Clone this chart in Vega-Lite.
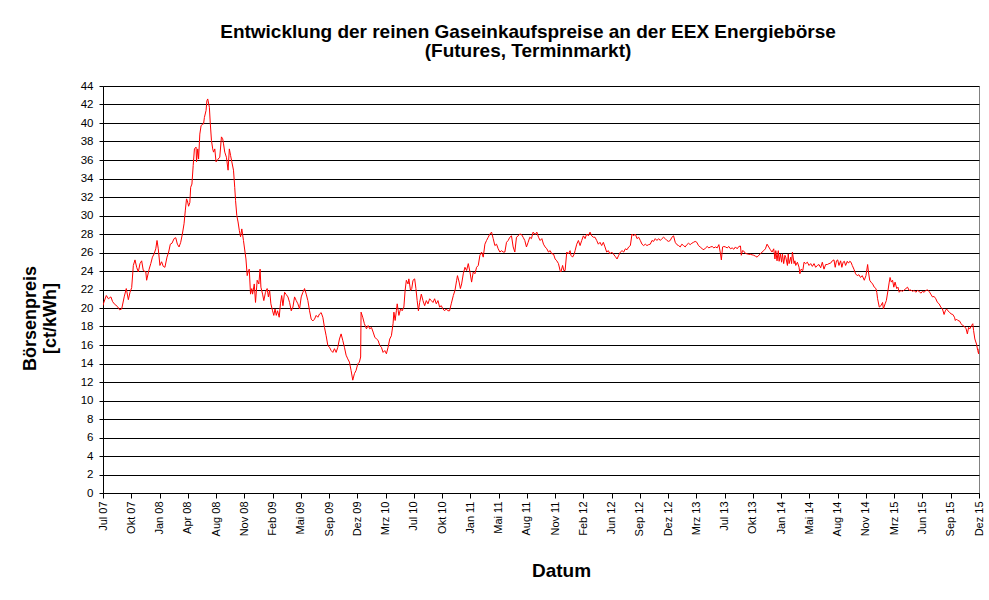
{
  "$schema": "https://vega.github.io/schema/vega-lite/v6.json",
  "width": 876,
  "height": 407,
  "autosize": {"type": "none"},
  "padding": {"left": 103, "top": 86, "right": 10, "bottom": 107},
  "background": "white",
  "title": {
    "text": ["Entwicklung der reinen Gaseinkaufspreise an der EEX Energiebörse", "(Futures, Terminmarkt)"],
    "font": "Liberation Sans",
    "fontSize": 19,
    "fontWeight": "bold",
    "color": "black",
    "anchor": "middle",
    "frame": "group",
    "dx": -13,
    "offset": 19,
    "lineHeight": 19
  },
  "config": {
    "view": {"stroke": "#808080", "strokeWidth": 1},
    "font": "Liberation Sans"
  },
  "data": {
    "values": [
      {"handelstag": 0, "preis": 20.27}, {"handelstag": 2, "preis": 20.6}, {"handelstag": 8, "preis": 21.35}, {"handelstag": 13, "preis": 21.0}, {"handelstag": 19, "preis": 21.2}, {"handelstag": 23, "preis": 20.7}, {"handelstag": 27, "preis": 20.45}, {"handelstag": 35, "preis": 20.15}, {"handelstag": 40, "preis": 19.8}, {"handelstag": 45, "preis": 19.9}, {"handelstag": 51, "preis": 21.2}, {"handelstag": 56, "preis": 22.1}, {"handelstag": 61, "preis": 20.9}, {"handelstag": 65, "preis": 21.7}, {"handelstag": 69, "preis": 22.2}, {"handelstag": 73, "preis": 24.6}, {"handelstag": 77, "preis": 25.2}, {"handelstag": 81, "preis": 24.4}, {"handelstag": 85, "preis": 23.9}, {"handelstag": 89, "preis": 24.8}, {"handelstag": 93, "preis": 25.1}, {"handelstag": 97, "preis": 24.05}, {"handelstag": 103, "preis": 23.9}, {"handelstag": 105, "preis": 23.0}, {"handelstag": 111, "preis": 24.2}, {"handelstag": 115, "preis": 24.8}, {"handelstag": 119, "preis": 25.5}, {"handelstag": 123, "preis": 25.85}, {"handelstag": 127, "preis": 26.4}, {"handelstag": 130, "preis": 27.3}, {"handelstag": 133, "preis": 26.4}, {"handelstag": 137, "preis": 24.6}, {"handelstag": 141, "preis": 25.0}, {"handelstag": 145, "preis": 24.5}, {"handelstag": 149, "preis": 24.4}, {"handelstag": 154, "preis": 25.5}, {"handelstag": 158, "preis": 26.05}, {"handelstag": 162, "preis": 26.9}, {"handelstag": 166, "preis": 27.0}, {"handelstag": 171, "preis": 27.5}, {"handelstag": 175, "preis": 27.6}, {"handelstag": 179, "preis": 26.9}, {"handelstag": 183, "preis": 26.6}, {"handelstag": 187, "preis": 27.1}, {"handelstag": 191, "preis": 28.0}, {"handelstag": 195, "preis": 29.1}, {"handelstag": 198, "preis": 30.5}, {"handelstag": 201, "preis": 31.8}, {"handelstag": 203, "preis": 31.6}, {"handelstag": 206, "preis": 31.0}, {"handelstag": 209, "preis": 31.4}, {"handelstag": 211, "preis": 33.05}, {"handelstag": 214, "preis": 33.4}, {"handelstag": 217, "preis": 35.4}, {"handelstag": 220, "preis": 37.2}, {"handelstag": 224, "preis": 37.4}, {"handelstag": 225, "preis": 35.8}, {"handelstag": 228, "preis": 37.2}, {"handelstag": 230, "preis": 36.1}, {"handelstag": 233, "preis": 38.8}, {"handelstag": 236, "preis": 39.7}, {"handelstag": 240, "preis": 39.9}, {"handelstag": 242, "preis": 39.9}, {"handelstag": 244, "preis": 40.6}, {"handelstag": 248, "preis": 41.35}, {"handelstag": 250, "preis": 42.4}, {"handelstag": 252, "preis": 42.6}, {"handelstag": 256, "preis": 41.7}, {"handelstag": 258, "preis": 40.1}, {"handelstag": 261, "preis": 38.1}, {"handelstag": 264, "preis": 37.2}, {"handelstag": 266, "preis": 36.85}, {"handelstag": 269, "preis": 37.2}, {"handelstag": 272, "preis": 35.8}, {"handelstag": 275, "preis": 35.95}, {"handelstag": 277, "preis": 36.1}, {"handelstag": 281, "preis": 36.3}, {"handelstag": 285, "preis": 38.5}, {"handelstag": 288, "preis": 38.3}, {"handelstag": 290, "preis": 37.75}, {"handelstag": 293, "preis": 36.85}, {"handelstag": 297, "preis": 36.3}, {"handelstag": 301, "preis": 34.9}, {"handelstag": 304, "preis": 37.2}, {"handelstag": 307, "preis": 36.5}, {"handelstag": 310, "preis": 35.8}, {"handelstag": 314, "preis": 34.9}, {"handelstag": 317, "preis": 33.05}, {"handelstag": 319, "preis": 31.6}, {"handelstag": 322, "preis": 30.0}, {"handelstag": 325, "preis": 29.3}, {"handelstag": 328, "preis": 28.4}, {"handelstag": 331, "preis": 27.7}, {"handelstag": 334, "preis": 28.55}, {"handelstag": 338, "preis": 27.3},
      {"handelstag": 344, "preis": 25.3}, {"handelstag": 347, "preis": 23.5}, {"handelstag": 350, "preis": 24.05}, {"handelstag": 352, "preis": 24.2}, {"handelstag": 355, "preis": 21.5}, {"handelstag": 358, "preis": 22.1}, {"handelstag": 360, "preis": 21.5}, {"handelstag": 364, "preis": 22.6}, {"handelstag": 367, "preis": 20.6}, {"handelstag": 371, "preis": 23.0}, {"handelstag": 375, "preis": 22.6}, {"handelstag": 378, "preis": 24.2}, {"handelstag": 380, "preis": 22.25}, {"handelstag": 384, "preis": 21.5}, {"handelstag": 387, "preis": 20.8}, {"handelstag": 391, "preis": 21.7}, {"handelstag": 395, "preis": 22.1}, {"handelstag": 398, "preis": 21.2}, {"handelstag": 401, "preis": 21.9}, {"handelstag": 404, "preis": 20.45}, {"handelstag": 408, "preis": 19.7}, {"handelstag": 411, "preis": 19.2}, {"handelstag": 414, "preis": 19.9}, {"handelstag": 417, "preis": 19.2}, {"handelstag": 420, "preis": 19.7}, {"handelstag": 424, "preis": 19.0}, {"handelstag": 427, "preis": 20.45}, {"handelstag": 430, "preis": 21.35}, {"handelstag": 433, "preis": 20.25}, {"handelstag": 437, "preis": 21.7}, {"handelstag": 441, "preis": 21.45}, {"handelstag": 445, "preis": 21.2}, {"handelstag": 449, "preis": 20.6}, {"handelstag": 453, "preis": 19.7}, {"handelstag": 457, "preis": 20.1}, {"handelstag": 461, "preis": 21.2}, {"handelstag": 465, "preis": 20.8}, {"handelstag": 469, "preis": 20.45}, {"handelstag": 473, "preis": 19.9}, {"handelstag": 477, "preis": 21.2}, {"handelstag": 481, "preis": 21.7}, {"handelstag": 485, "preis": 22.1}, {"handelstag": 489, "preis": 21.5}, {"handelstag": 493, "preis": 20.8}, {"handelstag": 497, "preis": 19.7}, {"handelstag": 501, "preis": 18.8}, {"handelstag": 505, "preis": 18.6}, {"handelstag": 509, "preis": 18.8}, {"handelstag": 513, "preis": 19.2}, {"handelstag": 517, "preis": 19.0}, {"handelstag": 521, "preis": 19.35}, {"handelstag": 525, "preis": 19.5}, {"handelstag": 529, "preis": 19.0}, {"handelstag": 533, "preis": 17.9}, {"handelstag": 537, "preis": 17.0}, {"handelstag": 541, "preis": 15.95}, {"handelstag": 545, "preis": 15.75}, {"handelstag": 549, "preis": 15.4}, {"handelstag": 553, "preis": 15.2}, {"handelstag": 557, "preis": 15.6}, {"handelstag": 561, "preis": 15.2}, {"handelstag": 565, "preis": 15.75}, {"handelstag": 569, "preis": 16.65}, {"handelstag": 573, "preis": 17.2}, {"handelstag": 577, "preis": 16.5}, {"handelstag": 581, "preis": 15.75}, {"handelstag": 585, "preis": 14.9}, {"handelstag": 589, "preis": 14.5}, {"handelstag": 593, "preis": 14.15}, {"handelstag": 597, "preis": 13.25}, {"handelstag": 601, "preis": 12.2}, {"handelstag": 605, "preis": 12.9}, {"handelstag": 609, "preis": 13.25}, {"handelstag": 613, "preis": 13.95}, {"handelstag": 617, "preis": 14.15}, {"handelstag": 620, "preis": 14.7}, {"handelstag": 621, "preis": 19.55}, {"handelstag": 625, "preis": 19.0}, {"handelstag": 629, "preis": 18.3}, {"handelstag": 634, "preis": 17.75}, {"handelstag": 638, "preis": 18.1}, {"handelstag": 642, "preis": 17.75}, {"handelstag": 646, "preis": 17.9}, {"handelstag": 650, "preis": 17.4}, {"handelstag": 654, "preis": 16.85}, {"handelstag": 658, "preis": 16.65}, {"handelstag": 662, "preis": 16.5}, {"handelstag": 666, "preis": 15.95}, {"handelstag": 670, "preis": 15.75}, {"handelstag": 674, "preis": 15.2}, {"handelstag": 678, "preis": 15.4}, {"handelstag": 682, "preis": 15.05}, {"handelstag": 686, "preis": 15.75}, {"handelstag": 690, "preis": 16.65}, {"handelstag": 694, "preis": 17.0}, {"handelstag": 698, "preis": 18.3},
      {"handelstag": 700, "preis": 19.55}, {"handelstag": 703, "preis": 18.65}, {"handelstag": 706, "preis": 19.7}, {"handelstag": 708, "preis": 20.45}, {"handelstag": 712, "preis": 19.2}, {"handelstag": 716, "preis": 19.9}, {"handelstag": 720, "preis": 19.7}, {"handelstag": 724, "preis": 20.1}, {"handelstag": 727, "preis": 21.9}, {"handelstag": 730, "preis": 23.0}, {"handelstag": 734, "preis": 22.6}, {"handelstag": 736, "preis": 23.15}, {"handelstag": 740, "preis": 21.9}, {"handelstag": 743, "preis": 22.1}, {"handelstag": 746, "preis": 23.0}, {"handelstag": 750, "preis": 23.15}, {"handelstag": 753, "preis": 22.1}, {"handelstag": 756, "preis": 20.8}, {"handelstag": 759, "preis": 19.7}, {"handelstag": 762, "preis": 20.6}, {"handelstag": 766, "preis": 21.5}, {"handelstag": 770, "preis": 20.8}, {"handelstag": 774, "preis": 20.25}, {"handelstag": 778, "preis": 20.8}, {"handelstag": 782, "preis": 20.45}, {"handelstag": 786, "preis": 21.0}, {"handelstag": 790, "preis": 20.8}, {"handelstag": 794, "preis": 20.6}, {"handelstag": 798, "preis": 21.0}, {"handelstag": 802, "preis": 20.45}, {"handelstag": 806, "preis": 20.8}, {"handelstag": 810, "preis": 20.1}, {"handelstag": 814, "preis": 20.25}, {"handelstag": 818, "preis": 19.9}, {"handelstag": 822, "preis": 19.7}, {"handelstag": 826, "preis": 19.9}, {"handelstag": 830, "preis": 19.7}, {"handelstag": 834, "preis": 19.7}, {"handelstag": 838, "preis": 20.45}, {"handelstag": 843, "preis": 21.35}, {"handelstag": 847, "preis": 21.9}, {"handelstag": 851, "preis": 23.0}, {"handelstag": 853, "preis": 23.5}, {"handelstag": 857, "preis": 22.8}, {"handelstag": 860, "preis": 22.1}, {"handelstag": 863, "preis": 22.6}, {"handelstag": 867, "preis": 23.7}, {"handelstag": 871, "preis": 24.4}, {"handelstag": 875, "preis": 24.05}, {"handelstag": 879, "preis": 24.8}, {"handelstag": 883, "preis": 23.9}, {"handelstag": 887, "preis": 22.8}, {"handelstag": 891, "preis": 23.9}, {"handelstag": 895, "preis": 23.7}, {"handelstag": 899, "preis": 24.4}, {"handelstag": 903, "preis": 24.6}, {"handelstag": 907, "preis": 25.7}, {"handelstag": 911, "preis": 26.05}, {"handelstag": 915, "preis": 25.5}, {"handelstag": 919, "preis": 26.9}, {"handelstag": 923, "preis": 27.3}, {"handelstag": 927, "preis": 27.65}, {"handelstag": 931, "preis": 28.0}, {"handelstag": 935, "preis": 28.2}, {"handelstag": 939, "preis": 27.5}, {"handelstag": 943, "preis": 26.75}, {"handelstag": 947, "preis": 26.9}, {"handelstag": 951, "preis": 26.4}, {"handelstag": 955, "preis": 26.05}, {"handelstag": 959, "preis": 26.2}, {"handelstag": 963, "preis": 26.05}, {"handelstag": 967, "preis": 26.05}, {"handelstag": 971, "preis": 27.1}, {"handelstag": 975, "preis": 27.3}, {"handelstag": 979, "preis": 27.65}, {"handelstag": 983, "preis": 27.8}, {"handelstag": 987, "preis": 26.6}, {"handelstag": 991, "preis": 26.05}, {"handelstag": 995, "preis": 27.65}, {"handelstag": 999, "preis": 27.8}, {"handelstag": 1003, "preis": 28.0}, {"handelstag": 1007, "preis": 27.95}, {"handelstag": 1011, "preis": 27.65}, {"handelstag": 1015, "preis": 27.3}, {"handelstag": 1019, "preis": 26.6}, {"handelstag": 1023, "preis": 27.1}, {"handelstag": 1027, "preis": 27.65}, {"handelstag": 1031, "preis": 27.5}, {"handelstag": 1035, "preis": 28.2}, {"handelstag": 1040, "preis": 27.95}, {"handelstag": 1044, "preis": 28.2}, {"handelstag": 1048, "preis": 27.65},
      {"handelstag": 1052, "preis": 27.3}, {"handelstag": 1056, "preis": 27.5}, {"handelstag": 1060, "preis": 26.9}, {"handelstag": 1064, "preis": 26.6}, {"handelstag": 1068, "preis": 26.4}, {"handelstag": 1072, "preis": 26.05}, {"handelstag": 1076, "preis": 26.2}, {"handelstag": 1080, "preis": 25.85}, {"handelstag": 1084, "preis": 25.85}, {"handelstag": 1088, "preis": 25.3}, {"handelstag": 1092, "preis": 25.1}, {"handelstag": 1096, "preis": 24.8}, {"handelstag": 1100, "preis": 24.05}, {"handelstag": 1102, "preis": 23.9}, {"handelstag": 1106, "preis": 24.6}, {"handelstag": 1109, "preis": 24.05}, {"handelstag": 1112, "preis": 24.05}, {"handelstag": 1116, "preis": 26.05}, {"handelstag": 1120, "preis": 25.85}, {"handelstag": 1124, "preis": 26.2}, {"handelstag": 1126, "preis": 25.7}, {"handelstag": 1130, "preis": 25.5}, {"handelstag": 1134, "preis": 25.85}, {"handelstag": 1136, "preis": 26.2}, {"handelstag": 1140, "preis": 26.9}, {"handelstag": 1144, "preis": 27.3}, {"handelstag": 1148, "preis": 26.75}, {"handelstag": 1152, "preis": 27.3}, {"handelstag": 1156, "preis": 27.8}, {"handelstag": 1160, "preis": 27.5}, {"handelstag": 1164, "preis": 28.0}, {"handelstag": 1168, "preis": 27.8}, {"handelstag": 1172, "preis": 28.2}, {"handelstag": 1176, "preis": 27.8}, {"handelstag": 1180, "preis": 27.65}, {"handelstag": 1184, "preis": 27.65}, {"handelstag": 1188, "preis": 27.3}, {"handelstag": 1192, "preis": 26.9}, {"handelstag": 1196, "preis": 27.1}, {"handelstag": 1200, "preis": 26.75}, {"handelstag": 1204, "preis": 27.1}, {"handelstag": 1208, "preis": 26.6}, {"handelstag": 1212, "preis": 26.05}, {"handelstag": 1216, "preis": 26.2}, {"handelstag": 1220, "preis": 25.85}, {"handelstag": 1224, "preis": 26.05}, {"handelstag": 1228, "preis": 25.85}, {"handelstag": 1233, "preis": 25.55}, {"handelstag": 1237, "preis": 25.3}, {"handelstag": 1241, "preis": 25.7}, {"handelstag": 1245, "preis": 26.05}, {"handelstag": 1249, "preis": 26.2}, {"handelstag": 1253, "preis": 26.05}, {"handelstag": 1257, "preis": 26.4}, {"handelstag": 1261, "preis": 26.3}, {"handelstag": 1265, "preis": 26.6}, {"handelstag": 1269, "preis": 26.75}, {"handelstag": 1273, "preis": 28.0}, {"handelstag": 1277, "preis": 27.8}, {"handelstag": 1281, "preis": 28.0}, {"handelstag": 1285, "preis": 27.5}, {"handelstag": 1289, "preis": 27.65}, {"handelstag": 1293, "preis": 27.3}, {"handelstag": 1297, "preis": 26.9}, {"handelstag": 1301, "preis": 26.75}, {"handelstag": 1305, "preis": 26.9}, {"handelstag": 1309, "preis": 26.75}, {"handelstag": 1313, "preis": 26.85}, {"handelstag": 1317, "preis": 26.9}, {"handelstag": 1321, "preis": 27.3}, {"handelstag": 1325, "preis": 27.2}, {"handelstag": 1329, "preis": 27.5}, {"handelstag": 1333, "preis": 27.3}, {"handelstag": 1337, "preis": 27.5}, {"handelstag": 1341, "preis": 27.3}, {"handelstag": 1345, "preis": 27.5}, {"handelstag": 1349, "preis": 27.65}, {"handelstag": 1353, "preis": 27.5}, {"handelstag": 1357, "preis": 27.3}, {"handelstag": 1361, "preis": 27.2}, {"handelstag": 1365, "preis": 27.3}, {"handelstag": 1369, "preis": 27.65}, {"handelstag": 1373, "preis": 27.8}, {"handelstag": 1377, "preis": 27.1}, {"handelstag": 1381, "preis": 26.85}, {"handelstag": 1385, "preis": 26.75}, {"handelstag": 1389, "preis": 26.6},
      {"handelstag": 1393, "preis": 26.9}, {"handelstag": 1397, "preis": 26.75}, {"handelstag": 1401, "preis": 26.6}, {"handelstag": 1405, "preis": 26.85}, {"handelstag": 1409, "preis": 27.0}, {"handelstag": 1413, "preis": 26.85}, {"handelstag": 1417, "preis": 27.0}, {"handelstag": 1421, "preis": 27.1}, {"handelstag": 1425, "preis": 27.2}, {"handelstag": 1429, "preis": 27.1}, {"handelstag": 1433, "preis": 26.75}, {"handelstag": 1437, "preis": 26.6}, {"handelstag": 1442, "preis": 26.4}, {"handelstag": 1446, "preis": 26.3}, {"handelstag": 1450, "preis": 26.5}, {"handelstag": 1454, "preis": 26.65}, {"handelstag": 1458, "preis": 26.5}, {"handelstag": 1462, "preis": 26.6}, {"handelstag": 1466, "preis": 26.65}, {"handelstag": 1470, "preis": 26.5}, {"handelstag": 1474, "preis": 26.6}, {"handelstag": 1478, "preis": 26.5}, {"handelstag": 1482, "preis": 26.85}, {"handelstag": 1486, "preis": 25.85}, {"handelstag": 1488, "preis": 25.2}, {"handelstag": 1491, "preis": 26.6}, {"handelstag": 1494, "preis": 26.65}, {"handelstag": 1498, "preis": 26.6}, {"handelstag": 1502, "preis": 26.5}, {"handelstag": 1506, "preis": 26.65}, {"handelstag": 1510, "preis": 26.4}, {"handelstag": 1514, "preis": 26.5}, {"handelstag": 1518, "preis": 26.35}, {"handelstag": 1522, "preis": 26.6}, {"handelstag": 1526, "preis": 26.4}, {"handelstag": 1530, "preis": 26.65}, {"handelstag": 1534, "preis": 26.7}, {"handelstag": 1536, "preis": 25.7}, {"handelstag": 1539, "preis": 26.2}, {"handelstag": 1542, "preis": 26.15}, {"handelstag": 1546, "preis": 25.9}, {"handelstag": 1550, "preis": 25.85}, {"handelstag": 1554, "preis": 25.8}, {"handelstag": 1558, "preis": 25.8}, {"handelstag": 1562, "preis": 25.75}, {"handelstag": 1566, "preis": 25.7}, {"handelstag": 1570, "preis": 25.6}, {"handelstag": 1574, "preis": 25.5}, {"handelstag": 1578, "preis": 25.7}, {"handelstag": 1582, "preis": 25.85}, {"handelstag": 1586, "preis": 26.05}, {"handelstag": 1590, "preis": 26.2}, {"handelstag": 1594, "preis": 26.4}, {"handelstag": 1598, "preis": 26.9}, {"handelstag": 1602, "preis": 26.6}, {"handelstag": 1606, "preis": 26.3}, {"handelstag": 1610, "preis": 26.05}, {"handelstag": 1614, "preis": 26.4}, {"handelstag": 1617, "preis": 25.3}, {"handelstag": 1619, "preis": 26.2}, {"handelstag": 1622, "preis": 25.1}, {"handelstag": 1625, "preis": 26.2}, {"handelstag": 1627, "preis": 25.05}, {"handelstag": 1630, "preis": 25.85}, {"handelstag": 1633, "preis": 24.95}, {"handelstag": 1635, "preis": 25.85}, {"handelstag": 1638, "preis": 24.8}, {"handelstag": 1641, "preis": 25.7}, {"handelstag": 1643, "preis": 25.5}, {"handelstag": 1647, "preis": 24.6}, {"handelstag": 1649, "preis": 25.85}, {"handelstag": 1651, "preis": 24.8}, {"handelstag": 1655, "preis": 25.5}, {"handelstag": 1657, "preis": 24.8}, {"handelstag": 1659, "preis": 26.05}, {"handelstag": 1663, "preis": 24.8}, {"handelstag": 1665, "preis": 25.1}, {"handelstag": 1667, "preis": 24.6}, {"handelstag": 1671, "preis": 24.95}, {"handelstag": 1675, "preis": 24.4}, {"handelstag": 1677, "preis": 23.7}, {"handelstag": 1680, "preis": 24.2}, {"handelstag": 1684, "preis": 24.05}, {"handelstag": 1687, "preis": 24.95}, {"handelstag": 1691, "preis": 24.8}, {"handelstag": 1695, "preis": 24.95}, {"handelstag": 1699, "preis": 24.6}, {"handelstag": 1703, "preis": 24.8}, {"handelstag": 1707, "preis": 24.5}, {"handelstag": 1711, "preis": 24.8}, {"handelstag": 1715, "preis": 24.4}, {"handelstag": 1719, "preis": 24.6}, {"handelstag": 1723, "preis": 24.7}, {"handelstag": 1727, "preis": 24.35}, {"handelstag": 1731, "preis": 24.95}, {"handelstag": 1735, "preis": 24.2}, {"handelstag": 1739, "preis": 24.7},
      {"handelstag": 1743, "preis": 24.7}, {"handelstag": 1747, "preis": 24.8}, {"handelstag": 1751, "preis": 24.85}, {"handelstag": 1755, "preis": 25.1}, {"handelstag": 1759, "preis": 25.2}, {"handelstag": 1762, "preis": 24.4}, {"handelstag": 1765, "preis": 25.1}, {"handelstag": 1768, "preis": 25.2}, {"handelstag": 1771, "preis": 24.6}, {"handelstag": 1775, "preis": 25.1}, {"handelstag": 1778, "preis": 24.4}, {"handelstag": 1781, "preis": 24.95}, {"handelstag": 1784, "preis": 25.05}, {"handelstag": 1787, "preis": 24.6}, {"handelstag": 1791, "preis": 25.05}, {"handelstag": 1794, "preis": 24.85}, {"handelstag": 1797, "preis": 25.05}, {"handelstag": 1800, "preis": 24.95}, {"handelstag": 1803, "preis": 24.6}, {"handelstag": 1807, "preis": 24.2}, {"handelstag": 1811, "preis": 23.7}, {"handelstag": 1815, "preis": 23.5}, {"handelstag": 1819, "preis": 23.6}, {"handelstag": 1823, "preis": 23.3}, {"handelstag": 1827, "preis": 23.5}, {"handelstag": 1832, "preis": 23.0}, {"handelstag": 1836, "preis": 23.5}, {"handelstag": 1840, "preis": 24.7}, {"handelstag": 1842, "preis": 23.9}, {"handelstag": 1845, "preis": 23.0}, {"handelstag": 1848, "preis": 22.8}, {"handelstag": 1852, "preis": 22.6}, {"handelstag": 1856, "preis": 22.25}, {"handelstag": 1860, "preis": 22.1}, {"handelstag": 1862, "preis": 21.7}, {"handelstag": 1864, "preis": 21.0}, {"handelstag": 1868, "preis": 20.1}, {"handelstag": 1872, "preis": 20.25}, {"handelstag": 1876, "preis": 20.6}, {"handelstag": 1878, "preis": 19.9}, {"handelstag": 1882, "preis": 20.45}, {"handelstag": 1885, "preis": 20.8}, {"handelstag": 1889, "preis": 21.9}, {"handelstag": 1892, "preis": 22.8}, {"handelstag": 1894, "preis": 23.3}, {"handelstag": 1897, "preis": 22.8}, {"handelstag": 1900, "preis": 23.0}, {"handelstag": 1903, "preis": 22.25}, {"handelstag": 1906, "preis": 22.8}, {"handelstag": 1910, "preis": 22.1}, {"handelstag": 1913, "preis": 22.25}, {"handelstag": 1916, "preis": 21.7}, {"handelstag": 1920, "preis": 21.9}, {"handelstag": 1924, "preis": 21.8}, {"handelstag": 1928, "preis": 21.95}, {"handelstag": 1932, "preis": 22.1}, {"handelstag": 1936, "preis": 22.25}, {"handelstag": 1940, "preis": 21.9}, {"handelstag": 1944, "preis": 21.95}, {"handelstag": 1948, "preis": 21.8}, {"handelstag": 1952, "preis": 21.9}, {"handelstag": 1956, "preis": 21.7}, {"handelstag": 1960, "preis": 21.9}, {"handelstag": 1964, "preis": 21.8}, {"handelstag": 1968, "preis": 21.6}, {"handelstag": 1972, "preis": 21.8}, {"handelstag": 1976, "preis": 21.7}, {"handelstag": 1980, "preis": 21.9}, {"handelstag": 1984, "preis": 21.95}, {"handelstag": 1988, "preis": 21.8}, {"handelstag": 1992, "preis": 21.5}, {"handelstag": 1996, "preis": 21.2}, {"handelstag": 2000, "preis": 21.25}, {"handelstag": 2004, "preis": 21.0}, {"handelstag": 2008, "preis": 20.6}, {"handelstag": 2012, "preis": 20.45}, {"handelstag": 2016, "preis": 20.1}, {"handelstag": 2020, "preis": 19.9}, {"handelstag": 2024, "preis": 19.3}, {"handelstag": 2027, "preis": 19.7}, {"handelstag": 2030, "preis": 19.9}, {"handelstag": 2033, "preis": 19.7}, {"handelstag": 2037, "preis": 19.55}, {"handelstag": 2041, "preis": 19.35}, {"handelstag": 2045, "preis": 19.3}, {"handelstag": 2049, "preis": 19.0}, {"handelstag": 2051, "preis": 18.65}, {"handelstag": 2054, "preis": 18.8}, {"handelstag": 2057, "preis": 18.65}, {"handelstag": 2061, "preis": 18.6}, {"handelstag": 2065, "preis": 18.3}, {"handelstag": 2069, "preis": 18.1}, {"handelstag": 2073, "preis": 18.0}, {"handelstag": 2077, "preis": 17.75}, {"handelstag": 2080, "preis": 17.2}, {"handelstag": 2083, "preis": 17.9}, {"handelstag": 2086, "preis": 17.75}, {"handelstag": 2090, "preis": 18.1}, {"handelstag": 2093, "preis": 18.3}, {"handelstag": 2095, "preis": 17.55}, {"handelstag": 2098, "preis": 16.65}, {"handelstag": 2102, "preis": 16.1}, {"handelstag": 2105, "preis": 15.4}, {"handelstag": 2107, "preis": 15.05}, {"handelstag": 2108, "preis": 15.6}
    ]
  },
  "mark": {"type": "line", "color": "#ff0000", "strokeWidth": 1, "interpolate": "linear", "clip": true},
  "encoding": {
    "x": {
      "field": "handelstag",
      "type": "quantitative",
      "scale": {"domain": [0, 2108], "nice": false, "zero": false},
      "axis": {
        "title": "Datum",
        "values": [0, 68, 136, 204, 272, 340, 408, 476, 544, 612, 680, 748, 816, 884, 952, 1020, 1088, 1156, 1224, 1292, 1360, 1428, 1496, 1564, 1632, 1700, 1768, 1836, 1904, 1972, 2040, 2108],
        "labelExpr": "['Jul 07','Okt 07','Jan 08','Apr 08','Aug 08','Nov 08','Feb 09','Mai 09','Sep 09','Dez 09','Mrz 10','Jul 10','Okt 10','Jan 11','Mai 11','Aug 11','Nov 11','Feb 12','Jun 12','Sep 12','Dez 12','Mrz 13','Jul 13','Okt 13','Jan 14','Mai 14','Aug 14','Nov 14','Mrz 15','Jun 15','Sep 15','Dez 15'][round(datum.value / 68)]",
        "labelAngle": -90,
        "labelAlign": "right",
        "labelBaseline": "middle",
        "labelFontSize": 11,
        "labelColor": "black",
        "labelPadding": 3,
        "labelOverlap": false,
        "labelFlush": false,
        "labelBound": false,
        "tickSize": 5,
        "tickColor": "black",
        "domainColor": "black",
        "grid": false,
        "titleFontSize": 19,
        "titleFontWeight": "bold",
        "titleColor": "black",
        "titleX": 458,
        "titleY": 83,
        "titleAlign": "center",
        "titleBaseline": "alphabetic"
      }
    },
    "y": {
      "field": "preis",
      "type": "quantitative",
      "scale": {"domain": [0, 44], "nice": false},
      "axis": {
        "title": ["Börsenpreis", "[ct/kWh]"],
        "values": [0, 2, 4, 6, 8, 10, 12, 14, 16, 18, 20, 22, 24, 26, 28, 30, 32, 34, 36, 38, 40, 42, 44],
        "grid": true,
        "gridColor": "black",
        "gridWidth": 1,
        "gridOpacity": 1,
        "tickSize": 4,
        "tickColor": "black",
        "domainColor": "black",
        "labelFontSize": 11.5,
        "labelColor": "black",
        "labelPadding": 6,
        "labelFlush": false,
        "labelOverlap": false,
        "titleFontSize": 18,
        "titleFontWeight": "bold",
        "titleColor": "black",
        "titleAngle": -90,
        "titleX": -73,
        "titleY": 232,
        "titleAlign": "center",
        "titleBaseline": "middle",
        "titleLineHeight": 20
      }
    }
  }
}
